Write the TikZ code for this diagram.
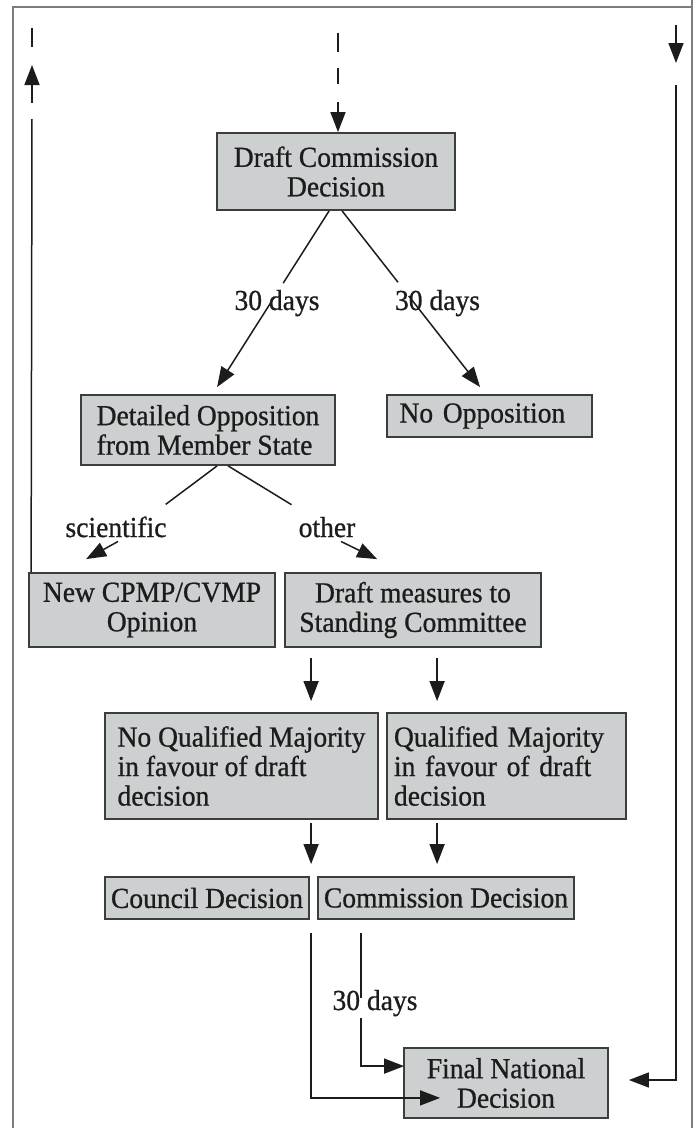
\documentclass[tikz,border=0pt]{standalone}
\usepackage{fontspec}
\setmainfont[FakeBold=0.8,FakeStretch=0.95]{Liberation Serif}
\usetikzlibrary{arrows.meta,calc}
\definecolor{boxfill}{RGB}{205,208,208}
\definecolor{ink}{RGB}{28,28,28}
\definecolor{boxline}{RGB}{60,62,62}
\definecolor{framec}{RGB}{125,125,125}
\begin{document}
\begin{tikzpicture}[x=1pt,y=-1pt,
  font=\fontsize{29}{29.5}\selectfont, text=ink,
  box/.style={draw=boxline, line width=1.8pt, fill=boxfill, inner sep=0pt, align=center},
  lbox/.style={box, align=left},
  conn/.style={draw=ink, line width=1.5pt},
  arr/.style={conn, -{Triangle[length=20pt,width=15pt]}},
  lab/.style={inner sep=0pt, anchor=base},
  framepen/.style={draw=framec, line width=1.8pt}]
\useasboundingbox (0,0) rectangle (697,1128);
% frame
\draw[framepen] (13,1128) -- (13,7) -- (692,7);
\draw[framepen] (692,0) -- (692,1128);

% boxes
\node[box, minimum width=238, minimum height=77] (dcd) at (336,171.5) {Draft Commission\\Decision};
\node[lbox, minimum width=254, minimum height=70] (dos) at (208,430) {Detailed Opposition\\from Member State};
\node[lbox, minimum width=205, minimum height=42, text width=180, inner xsep=12.5] (noop) at (489.5,416) {No Opposition};
\node[box, minimum width=246, minimum height=74] (cpmp) at (152,610) {New CPMP/CVMP\\Opinion};
\node[box, minimum width=256, minimum height=74] (dms) at (413,610) {Draft measures to\\Standing Committee};
\node[lbox, minimum width=273, minimum height=106] (nqm) at (241.5,766) {No Qualified Majority\\in favour of draft\\decision};
\node[lbox, minimum width=239, minimum height=106, text width=225, inner xsep=7] (qm) at (506.5,766) {Qualified Majority\\in favour of draft\\decision};
\node[box, minimum width=204, minimum height=42] (cd) at (207,898) {Council Decision};
\node[box, minimum width=256, minimum height=42] (comd) at (446,898) {Commission Decision};
\node[box, minimum width=204, minimum height=70] (fnd) at (506,1083) {Final National\\Decision};

% labels
\node[lab] (l1) at (277,310) {30 days};
\node[lab] (l2) at (437.5,310) {30 days};
\node[lab] (sci) at (116,537) {scientific};
\node[lab] (oth) at (327,537) {other};
\node[lab] (l3) at (375,1010) {30 days};

% centre dashed input
\coordinate (ctop) at (338,102);
\draw[conn] (338,33) -- (338,52);
\draw[conn] (338,68) -- (338,84);
\draw[arr] (ctop) -- (ctop |- dcd.north);

% dcd -> dos / noop
\coordinate (s1) at ($(dcd.south west)+(113,0)$);
\coordinate (t1) at ($(dos.north west)+(137,-7)$);
\draw[conn] (s1) -- ($(s1)!0.41!(t1)$);
\draw[arr] ($(s1)!0.49!(t1)$) -- (t1);
\coordinate (s2) at ($(dcd.south west)+(126,0)$);
\coordinate (t2) at ($(noop.north west)+(94,-7)$);
\draw[conn] (s2) -- ($(s2)!0.405!(t2)$);
\draw[arr] ($(s2)!0.483!(t2)$) -- (t2);

% dos -> scientific / other
\draw[conn] ($(dos.south west)+(137,0)$) -- ($(sci.north east)+(-1,-12)$);
\draw[arr] ($(sci.south)+(2,4)$) -- ($(cpmp.north west)+(58,-13)$);
\draw[conn] ($(dos.south west)+(148,0)$) -- ($(oth.north west)+(-7,-12)$);
\draw[arr] ($(oth.south)+(14,4)$) -- ($(dms.north west)+(93,-13)$);

% dms -> nqm / qm
\draw[arr] ($(dms.south west)+(27,10)$) -- ($(nqm.north west)+(207,-11)$);
\draw[arr] ($(dms.south west)+(153,10)$) -- ($(qm.north west)+(51,-11)$);

% nqm -> cd, qm -> comd
\draw[arr] ($(nqm.south west)+(207,3)$) -- ($(cd.north west)+(207,-12)$);
\draw[arr] ($(qm.south west)+(51,3)$) -- ($(comd.north west)+(120,-12)$);

% cd -> fnd
\draw[arr] ($(cd.south east)+(1,13)$) |- ($(fnd.south west)+(37,-21)$);

% comd -> fnd with 30 days
\coordinate (c9) at ($(comd.south west)+(44,13)$);
\draw[conn] (c9) -- ($(c9)+(0,65)$);
\draw[arr] ($(c9)+(0,85)$) |- ($(fnd.north west)+(1,19)$);

% right loop
\draw[arr] (676,25) -- (676,63);
\coordinate (rtop) at (676,85);
\draw[arr] (rtop) |- ($(fnd.east)+(20,-3)$);

% left loop
\draw[conn] ($(cpmp.north west)+(3,0)$) -- (32,119);
\draw[arr] (32,103) -- (32,65);
\draw[conn] (32,28) -- (32,47);
\end{tikzpicture}
\end{document}
